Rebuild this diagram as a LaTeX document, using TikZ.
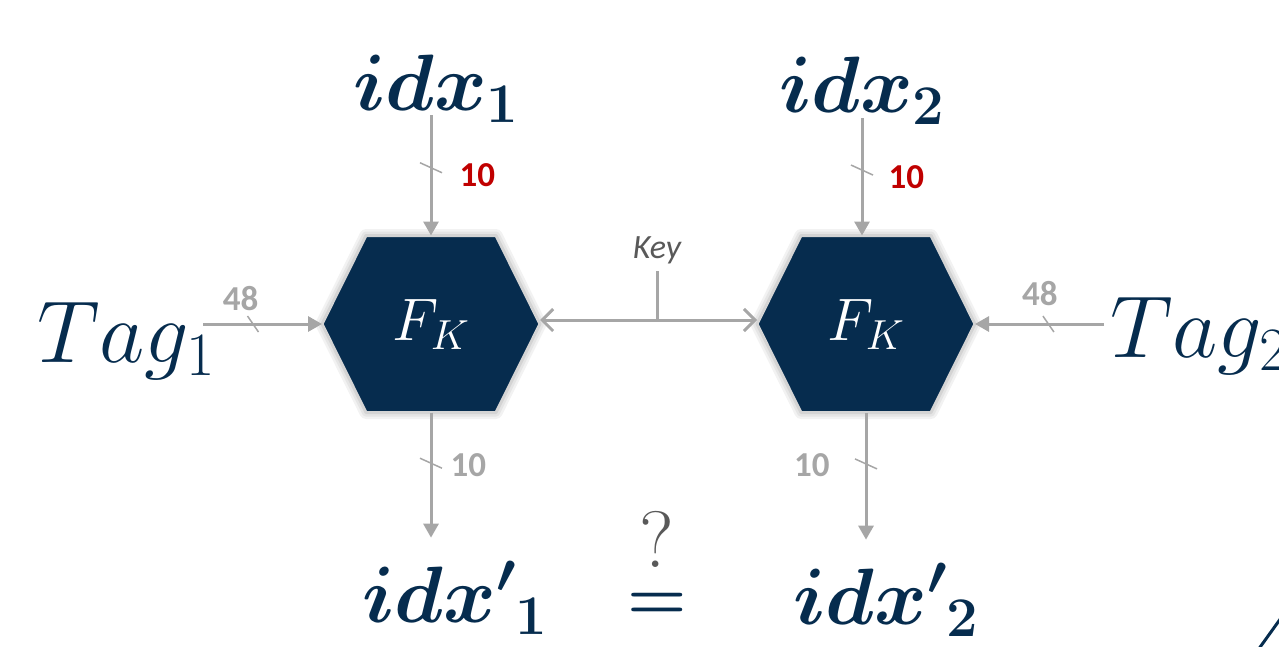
\RequirePackage{fix-cm}
\documentclass[tikz,border=0pt]{standalone}
\usepackage{amsmath,amssymb}
\usepackage{fontspec}
\usepackage{tikz}
\usepackage{xcolor}
\usetikzlibrary{arrows.meta,positioning,backgrounds}
\newfontfamily\calibri{Carlito}
\definecolor{navy}{HTML}{062C4E}
\definecolor{wiregray}{HTML}{A6A6A6}
\definecolor{bitred}{HTML}{C00000}
\definecolor{keygray}{HTML}{595959}
\tikzset{
  vtick/.pic={\draw[wiregray,line width=1.5pt] (-11,-5) -- (11,5);},
  htick/.pic={\draw[wiregray,line width=1.5pt] (-5,-8) -- (6,8);}
}

\begin{document}
\begin{tikzpicture}[x=1pt, y=-1pt, every node/.style={inner sep=0pt},
    conn/.style={draw=wiregray, line width=3pt},
    tohex/.style={conn, -{Triangle[length=14pt,width=15pt]}},
    keyline/.style={conn, {Straight Barb[length=11pt,width=22pt]}-{Straight Barb[length=11pt,width=22pt]}},
    hexbox/.style={minimum width=218pt, minimum height=177pt, outer sep=0pt, text=white, font=\fontsize{60}{62}\selectfont},
    hexface/.style={fill=navy, draw=black!17, line width=3pt, line join=round,
      preaction={draw=black!5, line width=13pt, line join=round},
      preaction={draw=black!10, line width=8pt, line join=round}},
    idxlbl/.style={anchor=base, text=navy, font=\fontsize{80}{82}\selectfont\boldmath},
    taglbl/.style={text=navy, font=\fontsize{88}{90}\selectfont},
    bits/.style={text=wiregray, font=\calibri\bfseries\fontsize{35}{36}\selectfont},
    redbits/.style={bits, text=bitred},
    keylbl/.style={text=keygray, font=\calibri\itshape\fontsize{34}{36}\selectfont}]
    \useasboundingbox (0,0) rectangle (1279,646);
    \clip (0,0) rectangle (1279,646);

    % the two keyed functions
    \node[hexbox] (fk1) at (431,324) {$F_K$};
    \node[hexbox] (fk2) at (866,324) {$F_K$};
    \begin{scope}[on background layer]
      \foreach \h in {fk1,fk2}
        \draw[hexface] (\h.west) -- ([xshift=44pt]\h.north west) -- ([xshift=-44pt]\h.north east)
          -- (\h.east) -- ([xshift=-44pt]\h.south east) -- ([xshift=44pt]\h.south west) -- cycle;
    \end{scope}

    % inputs
    \node[idxlbl] (idx1) at (436,110) {$idx_1$};
    \node[idxlbl] (idx2) at (862,112) {$idx_2$};
    \node[taglbl, anchor=base] (tag1) at (126,362) {$Tag_1$};
    \node[taglbl, anchor=base west] (tag2) at (1110,357) {$Tag_2$};
    \draw[tohex, shorten <=5pt] (fk1.north |- idx1.base) -- coordinate[pos=.46] (t1) node[pos=.52, right=27pt, redbits] {10} (fk1.north);
    \draw[tohex, shorten <=6pt] (idx2.base) -- coordinate[pos=.47] (t2) node[pos=.53, right=25pt, redbits] {10} (idx2.base |- fk2.north);
    \draw[tohex, shorten <=-12pt] (tag1.east |- fk1.west) -- coordinate[pos=.35] (t3) node[pos=.24, above=12pt, bits] {48} (fk1.west);
    \draw[tohex, shorten <=6pt] (tag2.west |- fk2.east) -- coordinate[pos=.46] (t4) node[pos=.52, above=17pt, bits] {48} (fk2.east);

    % shared key
    \node[keylbl] (key) at (657,250) {Key};
    \draw[keyline] ([yshift=4pt]fk1.east) -- coordinate[pos=.54] (kjoin) ([yshift=4pt]fk2.west);
    \draw[conn, shorten >=7pt] (kjoin) -- (kjoin |- key.south);

    % outputs
    \node[idxlbl] (idxp1) at (455,622) {${idx'}_1$};
    \node[idxlbl] (idxp2) at (886,624) {${idx'}_2$};
    \draw[tohex, shorten >=24pt] (fk1.south) -- coordinate[pos=.34] (t5) node[pos=.35, right=18pt, bits] {10} (fk1.south |- idxp1.north);
    \draw[tohex, shorten >=24pt] (fk2.south) -- coordinate[pos=.34] (t6) node[pos=.35, left=35pt, bits] {10} (fk2.south |- idxp2.north);
    \foreach \t in {t1,t2,t5,t6} \pic at (\t) {vtick};
    \foreach \t in {t3,t4} \pic at (\t) {htick};

    \node[align=center, text=navy, font=\fontsize{68}{70}\selectfont\boldmath] (eqq) at (657,565)
      {{\color{keygray}\fontsize{80}{80}\selectfont ?}\\[-18pt]$=$};

    \draw[navy, line width=3pt] (1258,650) -- (1286,611);
  \end{tikzpicture}
\end{document}
